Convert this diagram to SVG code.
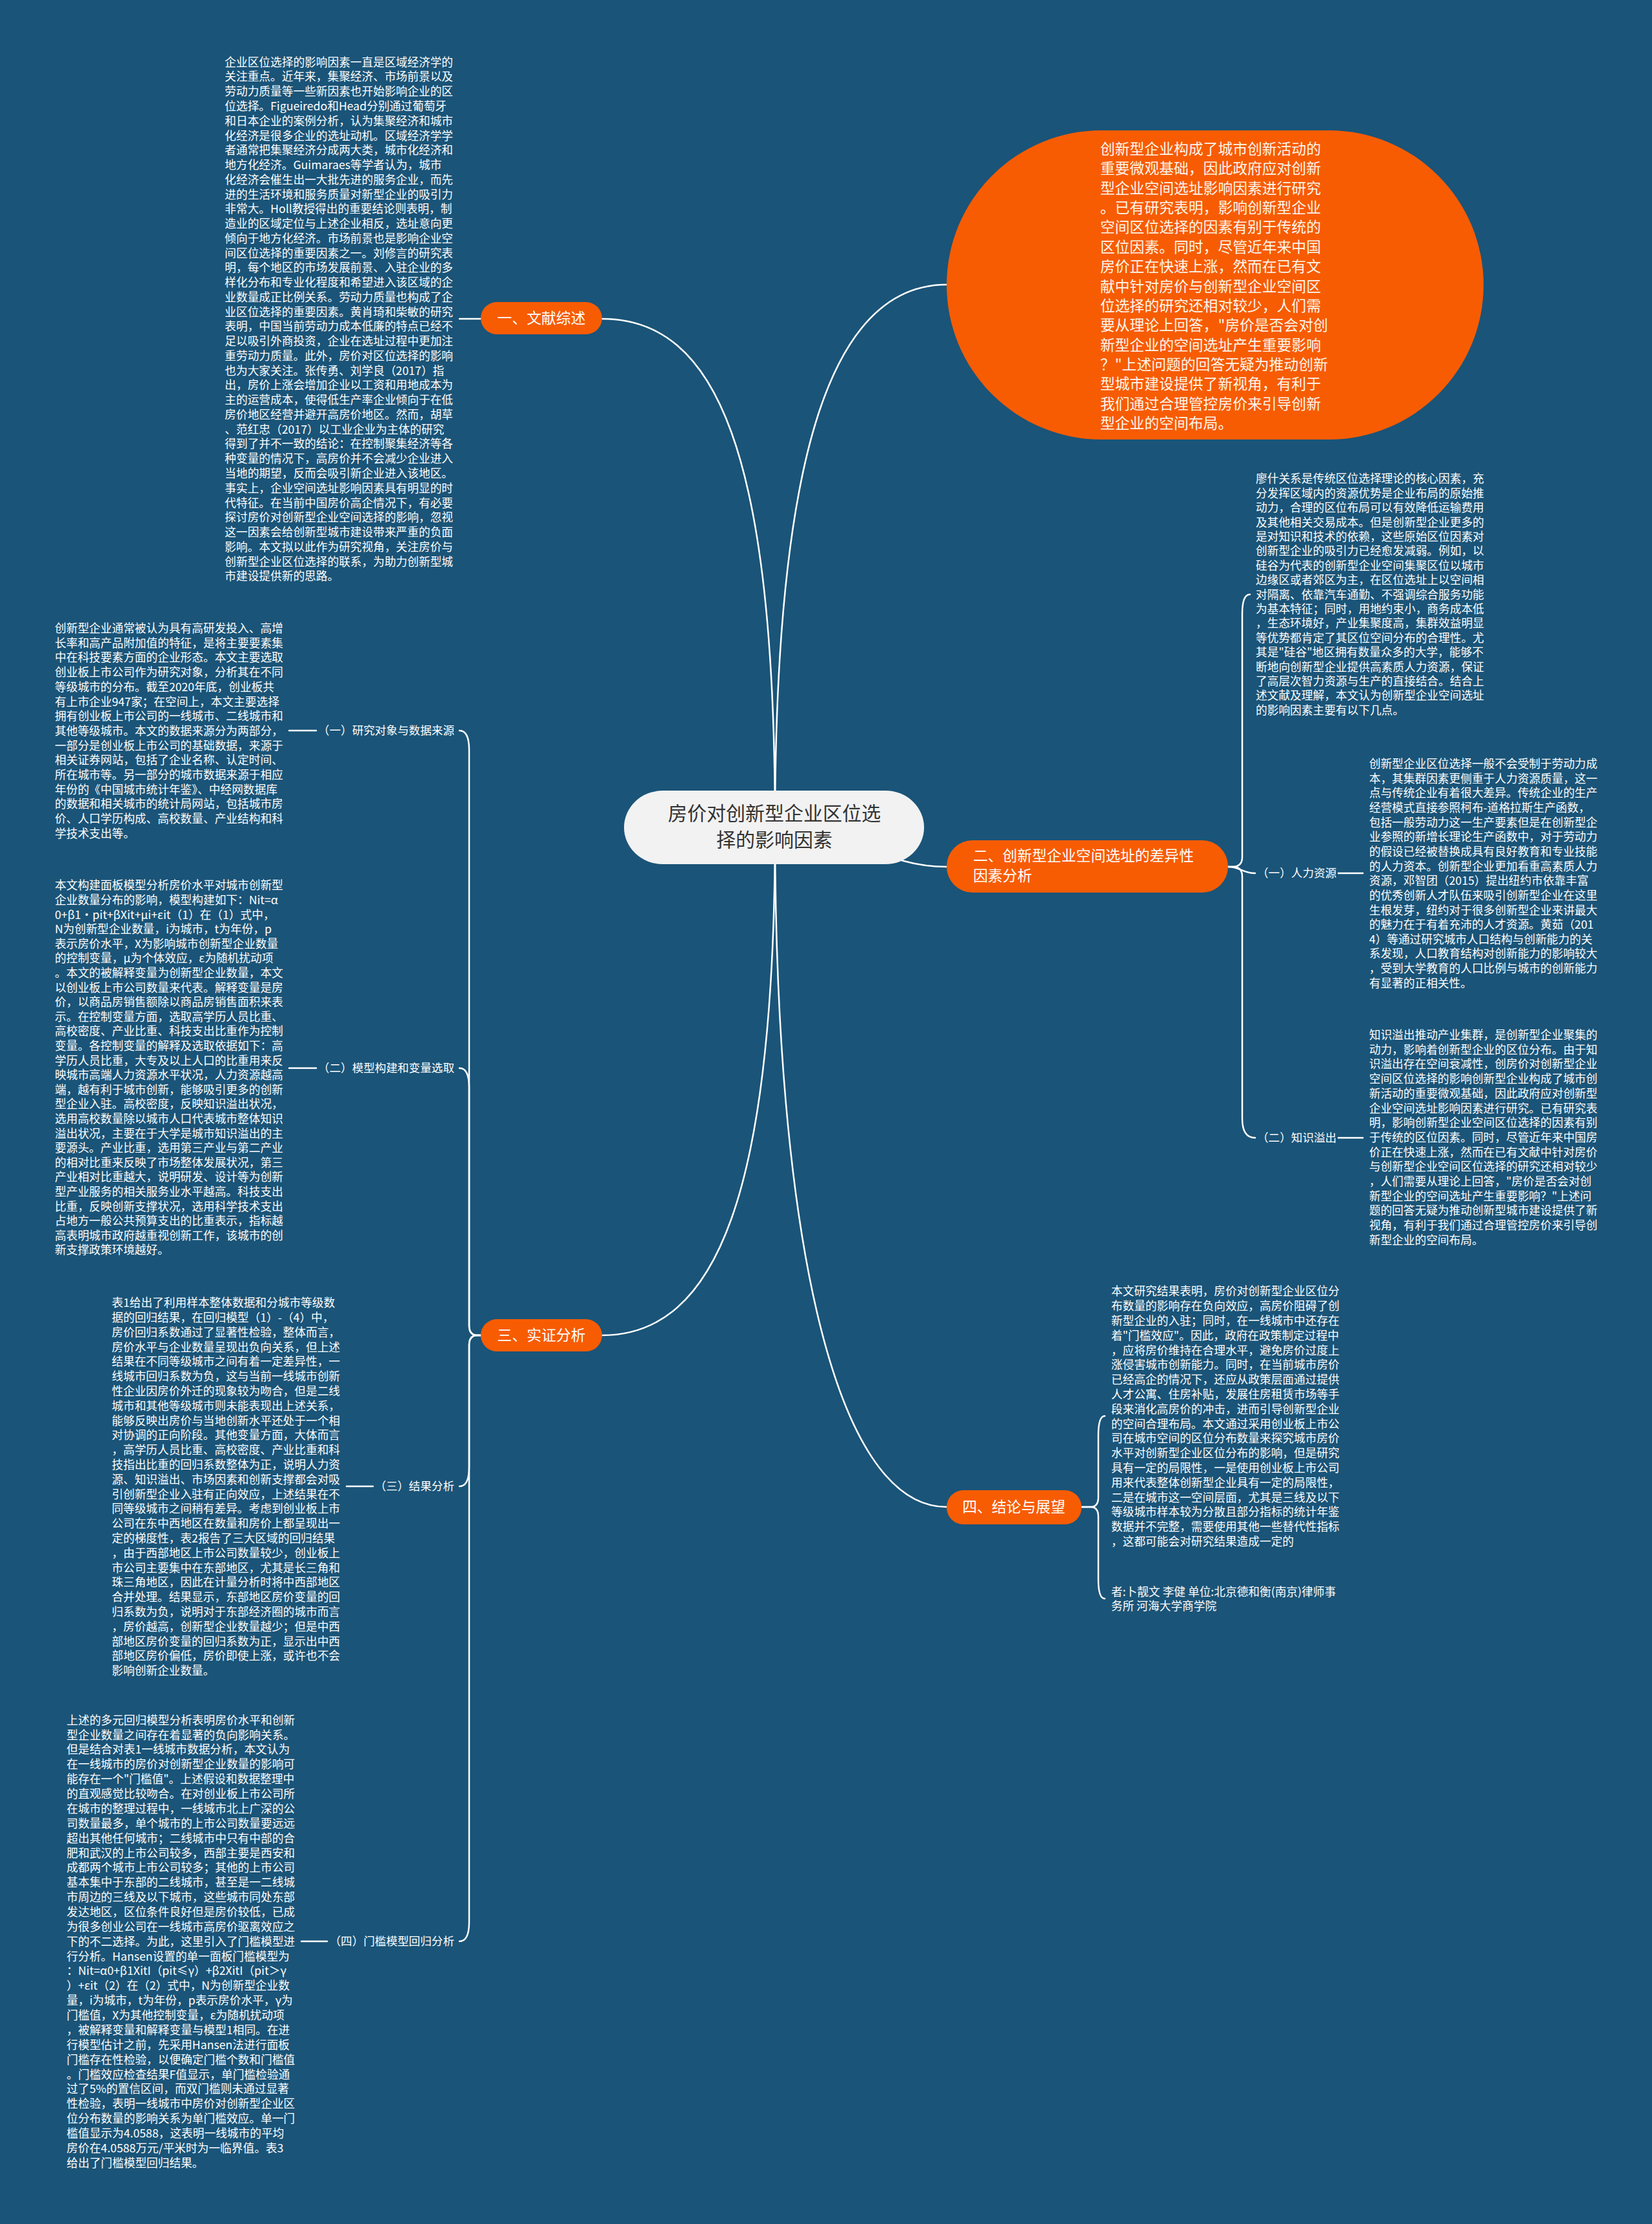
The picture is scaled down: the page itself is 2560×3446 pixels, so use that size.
<svg xmlns="http://www.w3.org/2000/svg" width="2560" height="3446" viewBox="0 0 2560 3446">
<style>
.t{font-family:"Noto Sans CJK SC","Noto Sans",sans-serif;font-size:17.7px;fill:#ffffff}
.lab{font-family:"Noto Sans CJK SC","Noto Sans",sans-serif;font-size:17.6px;fill:#ffffff}
.nt{font-family:"Noto Sans CJK SC","Noto Sans",sans-serif;font-size:22.8px;fill:#ffffff}
.et{font-family:"Noto Sans CJK SC","Noto Sans",sans-serif;font-size:22.8px;fill:#fdf6ec}
.rt{font-family:"Noto Sans CJK SC","Noto Sans",sans-serif;font-size:30px;fill:#333333}
.c{fill:none;stroke:#ffffff;stroke-width:2.5;stroke-linecap:round}
.on{fill:#f75c03}
</style>
<rect x="0" y="0" width="2560" height="3446" fill="#1a5478"/>

<g id="connectors">
<path class="c" d="M1201 1282 C1201 700 1110 494 933 494"/>
<path class="c" d="M1201 1282 C1201 700 1290 441 1467 441"/>
<path class="c" d="M1201 1282 C1330 1282 1360 1343 1467 1343"/>
<path class="c" d="M1201 1282 C1201 1850 1110 2069 933 2069"/>
<path class="c" d="M1201 1282 C1201 1900 1290 2335 1467 2335"/>
<path class="c" d="M745 494 H712"/>
<path class="c" d="M745 2069 H740 Q727 2069 727 2054 V1162 Q727 1132 712 1132"/>
<path class="c" d="M745 2069 H740 Q727 2069 727 2054 V1685 Q727 1655 712 1655"/>
<path class="c" d="M745 2069 H740 Q727 2069 727 2084 V2273 Q727 2303 712 2303"/>
<path class="c" d="M745 2069 H740 Q727 2069 727 2084 V2978 Q727 3008 712 3008"/>
<path class="c" d="M448 1132 H490"/>
<path class="c" d="M448 1655 H490"/>
<path class="c" d="M537 2303 H578"/>
<path class="c" d="M467 3008 H507"/>
<path class="c" d="M1903 1343 H1910 Q1925 1343 1925 1328 V951 Q1925 921 1937 921"/>
<path class="c" d="M1903 1343 C1922 1343 1925 1353 1945 1353"/>
<path class="c" d="M1903 1343 H1910 Q1925 1343 1925 1358 V1733 Q1925 1763 1945 1763"/>
<path class="c" d="M2074 1353 H2112"/>
<path class="c" d="M2074 1763 H2112"/>
<path class="c" d="M1676 2335 H1690 Q1702 2335 1702 2320 V2224 Q1702 2194 1712 2194"/>
<path class="c" d="M1676 2335 H1690 Q1702 2335 1702 2350 V2447 Q1702 2477 1712 2477"/>
</g>

<g id="root">
<rect x="967" y="1225" width="465" height="114" rx="60" ry="57" fill="#f2f2f2"/>
<text class="rt" text-anchor="middle"><tspan x="1200" y="1271">房价对创新型企业区位选</tspan><tspan x="1200" y="1312">择的影响因素</tspan></text>
</g>

<g id="intro">
<rect class="on" x="1467" y="202" width="832" height="479" rx="240" ry="239.5"/>
<text class="et" x="1705" y="238.7">
<tspan x="1705" dy="0">创新型企业构成了城市创新活动的</tspan>
<tspan x="1705" dy="30.4">重要微观基础，因此政府应对创新</tspan>
<tspan x="1705" dy="30.4">型企业空间选址影响因素进行研究</tspan>
<tspan x="1705" dy="30.4">。已有研究表明，影响创新型企业</tspan>
<tspan x="1705" dy="30.4">空间区位选择的因素有别于传统的</tspan>
<tspan x="1705" dy="30.4">区位因素。同时，尽管近年来中国</tspan>
<tspan x="1705" dy="30.4">房价正在快速上涨，然而在已有文</tspan>
<tspan x="1705" dy="30.4">献中针对房价与创新型企业空间区</tspan>
<tspan x="1705" dy="30.4">位选择的研究还相对较少，人们需</tspan>
<tspan x="1705" dy="30.4">要从理论上回答，"房价是否会对创</tspan>
<tspan x="1705" dy="30.4">新型企业的空间选址产生重要影响</tspan>
<tspan x="1705" dy="30.4">？"上述问题的回答无疑为推动创新</tspan>
<tspan x="1705" dy="30.4">型城市建设提供了新视角，有利于</tspan>
<tspan x="1705" dy="30.4">我们通过合理管控房价来引导创新</tspan>
<tspan x="1705" dy="30.4">型企业的空间布局。</tspan>
</text>
</g>

<g id="n1">
<rect class="on" x="745" y="468" width="188" height="50" rx="25"/>
<text class="nt" x="839" y="501" text-anchor="middle">一、文献综述</text>
</g>
<g id="n1-text">
<text class="t" x="348.3" y="102.7">
<tspan x="348.3" dy="0">企业区位选择的影响因素一直是区域经济学的</tspan>
<tspan x="348.3" dy="22.76">关注重点。近年来，集聚经济、市场前景以及</tspan>
<tspan x="348.3" dy="22.76">劳动力质量等一些新因素也开始影响企业的区</tspan>
<tspan x="348.3" dy="22.76">位选择。Figueiredo和Head分别通过葡萄牙</tspan>
<tspan x="348.3" dy="22.76">和日本企业的案例分析，认为集聚经济和城市</tspan>
<tspan x="348.3" dy="22.76">化经济是很多企业的选址动机。区域经济学学</tspan>
<tspan x="348.3" dy="22.76">者通常把集聚经济分成两大类，城市化经济和</tspan>
<tspan x="348.3" dy="22.76">地方化经济。Guimaraes等学者认为，城市</tspan>
<tspan x="348.3" dy="22.76">化经济会催生出一大批先进的服务企业，而先</tspan>
<tspan x="348.3" dy="22.76">进的生活环境和服务质量对新型企业的吸引力</tspan>
<tspan x="348.3" dy="22.76">非常大。Holl教授得出的重要结论则表明，制</tspan>
<tspan x="348.3" dy="22.76">造业的区域定位与上述企业相反，选址意向更</tspan>
<tspan x="348.3" dy="22.76">倾向于地方化经济。市场前景也是影响企业空</tspan>
<tspan x="348.3" dy="22.76">间区位选择的重要因素之一。刘修言的研究表</tspan>
<tspan x="348.3" dy="22.76">明，每个地区的市场发展前景、入驻企业的多</tspan>
<tspan x="348.3" dy="22.76">样化分布和专业化程度和希望进入该区域的企</tspan>
<tspan x="348.3" dy="22.76">业数量成正比例关系。劳动力质量也构成了企</tspan>
<tspan x="348.3" dy="22.76">业区位选择的重要因素。黄肖琦和柴敏的研究</tspan>
<tspan x="348.3" dy="22.76">表明，中国当前劳动力成本低廉的特点已经不</tspan>
<tspan x="348.3" dy="22.76">足以吸引外商投资，企业在选址过程中更加注</tspan>
<tspan x="348.3" dy="22.76">重劳动力质量。此外，房价对区位选择的影响</tspan>
<tspan x="348.3" dy="22.76">也为大家关注。张传勇、刘学良（2017）指</tspan>
<tspan x="348.3" dy="22.76">出，房价上涨会增加企业以工资和用地成本为</tspan>
<tspan x="348.3" dy="22.76">主的运营成本，使得低生产率企业倾向于在低</tspan>
<tspan x="348.3" dy="22.76">房价地区经营并避开高房价地区。然而，胡草</tspan>
<tspan x="348.3" dy="22.76">、范红忠（2017）以工业企业为主体的研究</tspan>
<tspan x="348.3" dy="22.76">得到了并不一致的结论：在控制聚集经济等各</tspan>
<tspan x="348.3" dy="22.76">种变量的情况下，高房价并不会减少企业进入</tspan>
<tspan x="348.3" dy="22.76">当地的期望，反而会吸引新企业进入该地区。</tspan>
<tspan x="348.3" dy="22.76">事实上，企业空间选址影响因素具有明显的时</tspan>
<tspan x="348.3" dy="22.76">代特征。在当前中国房价高企情况下，有必要</tspan>
<tspan x="348.3" dy="22.76">探讨房价对创新型企业空间选择的影响，忽视</tspan>
<tspan x="348.3" dy="22.76">这一因素会给创新型城市建设带来严重的负面</tspan>
<tspan x="348.3" dy="22.76">影响。本文拟以此作为研究视角，关注房价与</tspan>
<tspan x="348.3" dy="22.76">创新型企业区位选择的联系，为助力创新型城</tspan>
<tspan x="348.3" dy="22.76">市建设提供新的思路。</tspan>
</text>
</g>

<g id="n2">
<rect class="on" x="1467" y="1302" width="436" height="81" rx="40"/>
<text class="nt"><tspan x="1508" y="1334">二、创新型企业空间选址的差异性</tspan><tspan x="1508" y="1365">因素分析</tspan></text>
</g>
<g id="n2-text">
<text class="t" x="1946" y="748.4">
<tspan x="1946" dy="0">廖什关系是传统区位选择理论的核心因素，充</tspan>
<tspan x="1946" dy="22.4">分发挥区域内的资源优势是企业布局的原始推</tspan>
<tspan x="1946" dy="22.4">动力，合理的区位布局可以有效降低运输费用</tspan>
<tspan x="1946" dy="22.4">及其他相关交易成本。但是创新型企业更多的</tspan>
<tspan x="1946" dy="22.4">是对知识和技术的依赖，这些原始区位因素对</tspan>
<tspan x="1946" dy="22.4">创新型企业的吸引力已经愈发减弱。例如，以</tspan>
<tspan x="1946" dy="22.4">硅谷为代表的创新型企业空间集聚区位以城市</tspan>
<tspan x="1946" dy="22.4">边缘区或者郊区为主，在区位选址上以空间相</tspan>
<tspan x="1946" dy="22.4">对隔离、依靠汽车通勤、不强调综合服务功能</tspan>
<tspan x="1946" dy="22.4">为基本特征；同时，用地约束小，商务成本低</tspan>
<tspan x="1946" dy="22.4">，生态环境好，产业集聚度高，集群效益明显</tspan>
<tspan x="1946" dy="22.4">等优势都肯定了其区位空间分布的合理性。尤</tspan>
<tspan x="1946" dy="22.4">其是"硅谷"地区拥有数量众多的大学，能够不</tspan>
<tspan x="1946" dy="22.4">断地向创新型企业提供高素质人力资源，保证</tspan>
<tspan x="1946" dy="22.4">了高层次智力资源与生产的直接结合。结合上</tspan>
<tspan x="1946" dy="22.4">述文献及理解，本文认为创新型企业空间选址</tspan>
<tspan x="1946" dy="22.4">的影响因素主要有以下几点。</tspan>
</text>
</g>
<g id="n2-1">
<text class="lab" x="1948" y="1359">（一）人力资源</text>
<text class="t" x="2121.7" y="1190">
<tspan x="2121.7" dy="0">创新型企业区位选择一般不会受制于劳动力成</tspan>
<tspan x="2121.7" dy="22.65">本，其集群因素更侧重于人力资源质量，这一</tspan>
<tspan x="2121.7" dy="22.65">点与传统企业有着很大差异。传统企业的生产</tspan>
<tspan x="2121.7" dy="22.65">经营模式直接参照柯布-道格拉斯生产函数，</tspan>
<tspan x="2121.7" dy="22.65">包括一般劳动力这一生产要素但是在创新型企</tspan>
<tspan x="2121.7" dy="22.65">业参照的新增长理论生产函数中，对于劳动力</tspan>
<tspan x="2121.7" dy="22.65">的假设已经被替换成具有良好教育和专业技能</tspan>
<tspan x="2121.7" dy="22.65">的人力资本。创新型企业更加看重高素质人力</tspan>
<tspan x="2121.7" dy="22.65">资源，邓智团（2015）提出纽约市依靠丰富</tspan>
<tspan x="2121.7" dy="22.65">的优秀创新人才队伍来吸引创新型企业在这里</tspan>
<tspan x="2121.7" dy="22.65">生根发芽，纽约对于很多创新型企业来讲最大</tspan>
<tspan x="2121.7" dy="22.65">的魅力在于有着充沛的人才资源。黄茹（201</tspan>
<tspan x="2121.7" dy="22.65">4）等通过研究城市人口结构与创新能力的关</tspan>
<tspan x="2121.7" dy="22.65">系发现，人口教育结构对创新能力的影响较大</tspan>
<tspan x="2121.7" dy="22.65">，受到大学教育的人口比例与城市的创新能力</tspan>
<tspan x="2121.7" dy="22.65">有显著的正相关性。</tspan>
</text>
</g>
<g id="n2-2">
<text class="lab" x="1948" y="1769">（二）知识溢出</text>
<text class="t" x="2121.7" y="1610">
<tspan x="2121.7" dy="0">知识溢出推动产业集群，是创新型企业聚集的</tspan>
<tspan x="2121.7" dy="22.7">动力，影响着创新型企业的区位分布。由于知</tspan>
<tspan x="2121.7" dy="22.7">识溢出存在空间衰减性，创房价对创新型企业</tspan>
<tspan x="2121.7" dy="22.7">空间区位选择的影响创新型企业构成了城市创</tspan>
<tspan x="2121.7" dy="22.7">新活动的重要微观基础，因此政府应对创新型</tspan>
<tspan x="2121.7" dy="22.7">企业空间选址影响因素进行研究。已有研究表</tspan>
<tspan x="2121.7" dy="22.7">明，影响创新型企业空间区位选择的因素有别</tspan>
<tspan x="2121.7" dy="22.7">于传统的区位因素。同时，尽管近年来中国房</tspan>
<tspan x="2121.7" dy="22.7">价正在快速上涨，然而在已有文献中针对房价</tspan>
<tspan x="2121.7" dy="22.7">与创新型企业空间区位选择的研究还相对较少</tspan>
<tspan x="2121.7" dy="22.7">，人们需要从理论上回答，"房价是否会对创</tspan>
<tspan x="2121.7" dy="22.7">新型企业的空间选址产生重要影响？"上述问</tspan>
<tspan x="2121.7" dy="22.7">题的回答无疑为推动创新型城市建设提供了新</tspan>
<tspan x="2121.7" dy="22.7">视角，有利于我们通过合理管控房价来引导创</tspan>
<tspan x="2121.7" dy="22.7">新型企业的空间布局。</tspan>
</text>
</g>

<g id="n3">
<rect class="on" x="745" y="2044" width="188" height="50" rx="25"/>
<text class="nt" x="839" y="2077" text-anchor="middle">三、实证分析</text>
</g>
<g id="n3-1">
<text class="lab" x="704" y="1138" text-anchor="end">（一）研究对象与数据来源</text>
<text class="t" x="85" y="980">
<tspan x="85" dy="0">创新型企业通常被认为具有高研发投入、高增</tspan>
<tspan x="85" dy="22.7">长率和高产品附加值的特征，是将主要要素集</tspan>
<tspan x="85" dy="22.7">中在科技要素方面的企业形态。本文主要选取</tspan>
<tspan x="85" dy="22.7">创业板上市公司作为研究对象，分析其在不同</tspan>
<tspan x="85" dy="22.7">等级城市的分布。截至2020年底，创业板共</tspan>
<tspan x="85" dy="22.7">有上市企业947家；在空间上，本文主要选择</tspan>
<tspan x="85" dy="22.7">拥有创业板上市公司的一线城市、二线城市和</tspan>
<tspan x="85" dy="22.7">其他等级城市。本文的数据来源分为两部分，</tspan>
<tspan x="85" dy="22.7">一部分是创业板上市公司的基础数据，来源于</tspan>
<tspan x="85" dy="22.7">相关证券网站，包括了企业名称、认定时间、</tspan>
<tspan x="85" dy="22.7">所在城市等。另一部分的城市数据来源于相应</tspan>
<tspan x="85" dy="22.7">年份的《中国城市统计年鉴》、中经网数据库</tspan>
<tspan x="85" dy="22.7">的数据和相关城市的统计局网站，包括城市房</tspan>
<tspan x="85" dy="22.7">价、人口学历构成、高校数量、产业结构和科</tspan>
<tspan x="85" dy="22.7">学技术支出等。</tspan>
</text>
</g>
<g id="n3-2">
<text class="lab" x="704" y="1661" text-anchor="end">（二）模型构建和变量选取</text>
<text class="t" x="85" y="1378.3">
<tspan x="85" dy="0">本文构建面板模型分析房价水平对城市创新型</tspan>
<tspan x="85" dy="22.6">企业数量分布的影响，模型构建如下：Nit=α</tspan>
<tspan x="85" dy="22.6">0+β1·pit+βXit+μi+εit（1）在（1）式中，</tspan>
<tspan x="85" dy="22.6">N为创新型企业数量，i为城市，t为年份，p</tspan>
<tspan x="85" dy="22.6">表示房价水平，X为影响城市创新型企业数量</tspan>
<tspan x="85" dy="22.6">的控制变量，μ为个体效应，ε为随机扰动项</tspan>
<tspan x="85" dy="22.6">。本文的被解释变量为创新型企业数量，本文</tspan>
<tspan x="85" dy="22.6">以创业板上市公司数量来代表。解释变量是房</tspan>
<tspan x="85" dy="22.6">价，以商品房销售额除以商品房销售面积来表</tspan>
<tspan x="85" dy="22.6">示。在控制变量方面，选取高学历人员比重、</tspan>
<tspan x="85" dy="22.6">高校密度、产业比重、科技支出比重作为控制</tspan>
<tspan x="85" dy="22.6">变量。各控制变量的解释及选取依据如下：高</tspan>
<tspan x="85" dy="22.6">学历人员比重，大专及以上人口的比重用来反</tspan>
<tspan x="85" dy="22.6">映城市高端人力资源水平状况，人力资源越高</tspan>
<tspan x="85" dy="22.6">端，越有利于城市创新，能够吸引更多的创新</tspan>
<tspan x="85" dy="22.6">型企业入驻。高校密度，反映知识溢出状况，</tspan>
<tspan x="85" dy="22.6">选用高校数量除以城市人口代表城市整体知识</tspan>
<tspan x="85" dy="22.6">溢出状况，主要在于大学是城市知识溢出的主</tspan>
<tspan x="85" dy="22.6">要源头。产业比重，选用第三产业与第二产业</tspan>
<tspan x="85" dy="22.6">的相对比重来反映了市场整体发展状况，第三</tspan>
<tspan x="85" dy="22.6">产业相对比重越大，说明研发、设计等为创新</tspan>
<tspan x="85" dy="22.6">型产业服务的相关服务业水平越高。科技支出</tspan>
<tspan x="85" dy="22.6">比重，反映创新支撑状况，选用科学技术支出</tspan>
<tspan x="85" dy="22.6">占地方一般公共预算支出的比重表示，指标越</tspan>
<tspan x="85" dy="22.6">高表明城市政府越重视创新工作，该城市的创</tspan>
<tspan x="85" dy="22.6">新支撑政策环境越好。</tspan>
</text>
</g>
<g id="n3-3">
<text class="lab" x="704" y="2309" text-anchor="end">（三）结果分析</text>
<text class="t" x="173.3" y="2025.2">
<tspan x="173.3" dy="0">表1给出了利用样本整体数据和分城市等级数</tspan>
<tspan x="173.3" dy="22.8">据的回归结果，在回归模型（1）-（4）中，</tspan>
<tspan x="173.3" dy="22.8">房价回归系数通过了显著性检验，整体而言，</tspan>
<tspan x="173.3" dy="22.8">房价水平与企业数量呈现出负向关系，但上述</tspan>
<tspan x="173.3" dy="22.8">结果在不同等级城市之间有着一定差异性，一</tspan>
<tspan x="173.3" dy="22.8">线城市回归系数为负，这与当前一线城市创新</tspan>
<tspan x="173.3" dy="22.8">性企业因房价外迁的现象较为吻合，但是二线</tspan>
<tspan x="173.3" dy="22.8">城市和其他等级城市则未能表现出上述关系，</tspan>
<tspan x="173.3" dy="22.8">能够反映出房价与当地创新水平还处于一个相</tspan>
<tspan x="173.3" dy="22.8">对协调的正向阶段。其他变量方面，大体而言</tspan>
<tspan x="173.3" dy="22.8">，高学历人员比重、高校密度、产业比重和科</tspan>
<tspan x="173.3" dy="22.8">技指出比重的回归系数整体为正，说明人力资</tspan>
<tspan x="173.3" dy="22.8">源、知识溢出、市场因素和创新支撑都会对吸</tspan>
<tspan x="173.3" dy="22.8">引创新型企业入驻有正向效应，上述结果在不</tspan>
<tspan x="173.3" dy="22.8">同等级城市之间稍有差异。考虑到创业板上市</tspan>
<tspan x="173.3" dy="22.8">公司在东中西地区在数量和房价上都呈现出一</tspan>
<tspan x="173.3" dy="22.8">定的梯度性，表2报告了三大区域的回归结果</tspan>
<tspan x="173.3" dy="22.8">，由于西部地区上市公司数量较少，创业板上</tspan>
<tspan x="173.3" dy="22.8">市公司主要集中在东部地区，尤其是长三角和</tspan>
<tspan x="173.3" dy="22.8">珠三角地区，因此在计量分析时将中西部地区</tspan>
<tspan x="173.3" dy="22.8">合并处理。结果显示，东部地区房价变量的回</tspan>
<tspan x="173.3" dy="22.8">归系数为负，说明对于东部经济圈的城市而言</tspan>
<tspan x="173.3" dy="22.8">，房价越高，创新型企业数量越少；但是中西</tspan>
<tspan x="173.3" dy="22.8">部地区房价变量的回归系数为正，显示出中西</tspan>
<tspan x="173.3" dy="22.8">部地区房价偏低，房价即使上涨，或许也不会</tspan>
<tspan x="173.3" dy="22.8">影响创新企业数量。</tspan>
</text>
</g>
<g id="n3-4">
<text class="lab" x="704" y="3014" text-anchor="end">（四）门槛模型回归分析</text>
<text class="t" x="103.3" y="2671.7">
<tspan x="103.3" dy="0">上述的多元回归模型分析表明房价水平和创新</tspan>
<tspan x="103.3" dy="22.87">型企业数量之间存在着显著的负向影响关系。</tspan>
<tspan x="103.3" dy="22.87">但是结合对表1一线城市数据分析，本文认为</tspan>
<tspan x="103.3" dy="22.87">在一线城市的房价对创新型企业数量的影响可</tspan>
<tspan x="103.3" dy="22.87">能存在一个"门槛值"。上述假设和数据整理中</tspan>
<tspan x="103.3" dy="22.87">的直观感觉比较吻合。在对创业板上市公司所</tspan>
<tspan x="103.3" dy="22.87">在城市的整理过程中，一线城市北上广深的公</tspan>
<tspan x="103.3" dy="22.87">司数量最多，单个城市的上市公司数量要远远</tspan>
<tspan x="103.3" dy="22.87">超出其他任何城市；二线城市中只有中部的合</tspan>
<tspan x="103.3" dy="22.87">肥和武汉的上市公司较多，西部主要是西安和</tspan>
<tspan x="103.3" dy="22.87">成都两个城市上市公司较多；其他的上市公司</tspan>
<tspan x="103.3" dy="22.87">基本集中于东部的二线城市，甚至是一二线城</tspan>
<tspan x="103.3" dy="22.87">市周边的三线及以下城市，这些城市同处东部</tspan>
<tspan x="103.3" dy="22.87">发达地区，区位条件良好但是房价较低，已成</tspan>
<tspan x="103.3" dy="22.87">为很多创业公司在一线城市高房价驱离效应之</tspan>
<tspan x="103.3" dy="22.87">下的不二选择。为此，这里引入了门槛模型进</tspan>
<tspan x="103.3" dy="22.87">行分析。Hansen设置的单一面板门槛模型为</tspan>
<tspan x="103.3" dy="22.87">：Nit=α0+β1XitI（pit≤γ）+β2XitI（pit＞γ</tspan>
<tspan x="103.3" dy="22.87">）+εit（2）在（2）式中，N为创新型企业数</tspan>
<tspan x="103.3" dy="22.87">量，i为城市，t为年份，p表示房价水平，γ为</tspan>
<tspan x="103.3" dy="22.87">门槛值，X为其他控制变量，ε为随机扰动项</tspan>
<tspan x="103.3" dy="22.87">，被解释变量和解释变量与模型1相同。在进</tspan>
<tspan x="103.3" dy="22.87">行模型估计之前，先采用Hansen法进行面板</tspan>
<tspan x="103.3" dy="22.87">门槛存在性检验，以便确定门槛个数和门槛值</tspan>
<tspan x="103.3" dy="22.87">。门槛效应检查结果F值显示，单门槛检验通</tspan>
<tspan x="103.3" dy="22.87">过了5%的置信区间，而双门槛则未通过显著</tspan>
<tspan x="103.3" dy="22.87">性检验，表明一线城市中房价对创新型企业区</tspan>
<tspan x="103.3" dy="22.87">位分布数量的影响关系为单门槛效应。单一门</tspan>
<tspan x="103.3" dy="22.87">槛值显示为4.0588，这表明一线城市的平均</tspan>
<tspan x="103.3" dy="22.87">房价在4.0588万元/平米时为一临界值。表3</tspan>
<tspan x="103.3" dy="22.87">给出了门槛模型回归结果。</tspan>
</text>
</g>

<g id="n4">
<rect class="on" x="1467" y="2309" width="209" height="53" rx="26"/>
<text class="nt" x="1571" y="2343" text-anchor="middle">四、结论与展望</text>
</g>
<g id="n4-text">
<text class="t" x="1722" y="2007.3">
<tspan x="1722" dy="0">本文研究结果表明，房价对创新型企业区位分</tspan>
<tspan x="1722" dy="22.8">布数量的影响存在负向效应，高房价阻碍了创</tspan>
<tspan x="1722" dy="22.8">新型企业的入驻；同时，在一线城市中还存在</tspan>
<tspan x="1722" dy="22.8">着"门槛效应"。因此，政府在政策制定过程中</tspan>
<tspan x="1722" dy="22.8">，应将房价维持在合理水平，避免房价过度上</tspan>
<tspan x="1722" dy="22.8">涨侵害城市创新能力。同时，在当前城市房价</tspan>
<tspan x="1722" dy="22.8">已经高企的情况下，还应从政策层面通过提供</tspan>
<tspan x="1722" dy="22.8">人才公寓、住房补贴，发展住房租赁市场等手</tspan>
<tspan x="1722" dy="22.8">段来消化高房价的冲击，进而引导创新型企业</tspan>
<tspan x="1722" dy="22.8">的空间合理布局。本文通过采用创业板上市公</tspan>
<tspan x="1722" dy="22.8">司在城市空间的区位分布数量来探究城市房价</tspan>
<tspan x="1722" dy="22.8">水平对创新型企业区位分布的影响，但是研究</tspan>
<tspan x="1722" dy="22.8">具有一定的局限性，一是使用创业板上市公司</tspan>
<tspan x="1722" dy="22.8">用来代表整体创新型企业具有一定的局限性，</tspan>
<tspan x="1722" dy="22.8">二是在城市这一空间层面，尤其是三线及以下</tspan>
<tspan x="1722" dy="22.8">等级城市样本较为分散且部分指标的统计年鉴</tspan>
<tspan x="1722" dy="22.8">数据并不完整，需要使用其他一些替代性指标</tspan>
<tspan x="1722" dy="22.8">，这都可能会对研究结果造成一定的</tspan>
</text>
<text class="t" x="1722" y="2472.7">
<tspan x="1722" dy="0">者:卜靓文 李健 单位:北京德和衡(南京)律师事</tspan>
<tspan x="1722" dy="22.6">务所 河海大学商学院</tspan>
</text>
</g>
</svg>
